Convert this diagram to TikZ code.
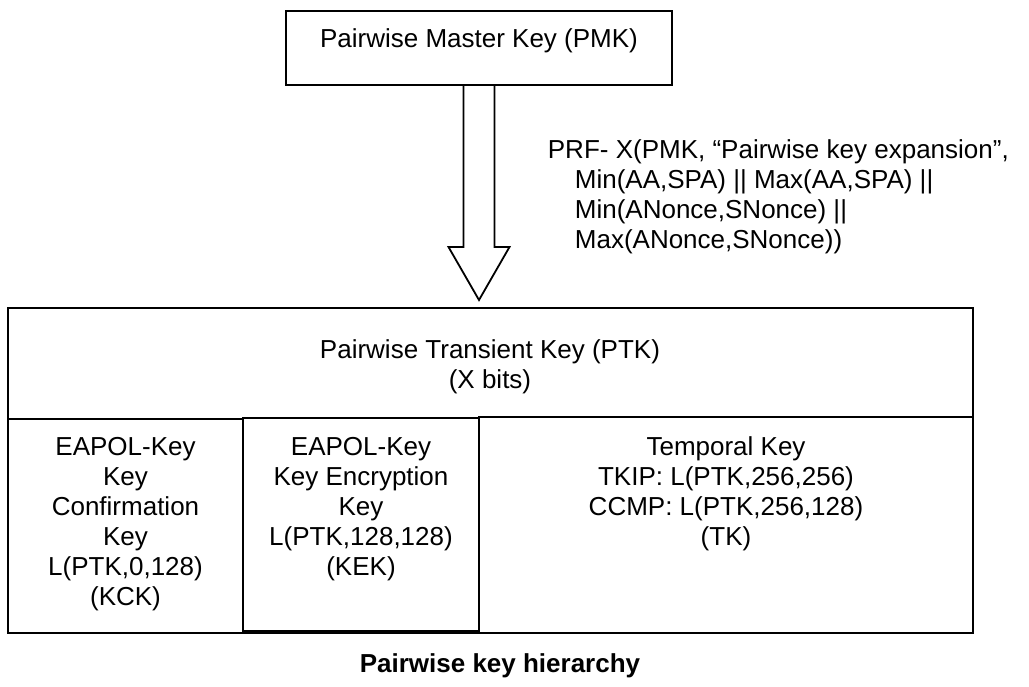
\documentclass[tikz,border=0pt]{standalone}
\usepackage{fontspec}
\setmainfont{Liberation Sans}
\usetikzlibrary{positioning}

\begin{document}
\begin{tikzpicture}[x=1pt,y=-1pt,line width=1.8pt,font=\fontsize{26pt}{30pt}\selectfont,
	box/.style={draw,outer sep=0pt,inner sep=0pt,anchor=north west},
	txt/.style={align=center,inner sep=0pt,anchor=north}]
	\useasboundingbox (0,0) rectangle (1029,687);

	% master key on top
	\node [box,minimum width=386pt,minimum height=74pt] at (286,11) (pmk) {};
	\node [txt] at (479,28) (pmk_txt) {Pairwise Master Key (PMK)};

	% transient key and its three parts
	\node [box,minimum width=965pt,minimum height=325pt] at (8,308) (ptk) {};
	\node [txt] at (490,339) (ptk_txt) {Pairwise Transient Key (PTK)\\(X bits)};
	\node [box,minimum width=235pt,minimum height=214pt] at (8,419) (kck) {};
	\node [box,minimum width=236pt,minimum height=213pt] at (243,418) (kek) {};
	\node [box,minimum width=494pt,minimum height=216pt] at (479,417) (tk) {};
	\node [txt] at (kck.north|-0,436) (kck_txt) {EAPOL-Key\\Key\\Confirmation\\Key\\L(PTK,0,128)\\(KCK)};
	\node [txt] at (kek.north|-0,436) (kek_txt) {EAPOL-Key\\Key Encryption\\Key\\L(PTK,128,128)\\(KEK)};
	\node [txt] at (tk.north|-0,436) (tk_txt) {Temporal Key\\TKIP: L(PTK,256,256)\\CCMP: L(PTK,256,128)\\(TK)};

	% hollow arrow from PMK down to PTK
	\draw [line join=miter] (pmk.south) ++(-15.5,0) -- ++(0,162) -- ++(-15,0) -- ++(30.5,53) -- ++(30.5,-53) -- ++(-15,0) -- ++(0,-162);
	\node [align=left,inner sep=0pt,anchor=north west] at (547,139) (prf) {PRF- X(PMK, “Pairwise key expansion”,\\
		\hspace*{27pt}Min(AA,SPA) || Max(AA,SPA) ||\\
		\hspace*{27pt}Min(ANonce,SNonce) ||\\
		\hspace*{27pt}Max(ANonce,SNonce))};

	\node [txt,font=\fontsize{26pt}{30pt}\selectfont\bfseries] at (500,653) (caption) {Pairwise key hierarchy};
\end{tikzpicture}
\end{document}
